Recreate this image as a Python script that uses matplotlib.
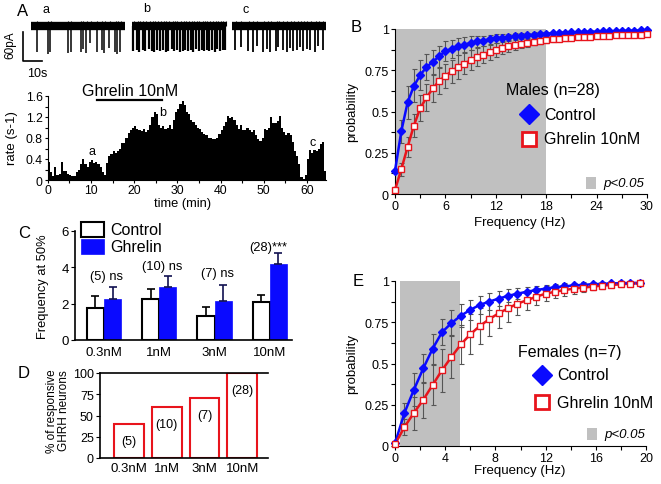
import numpy as np
import matplotlib
matplotlib.use('Agg')
import matplotlib.pyplot as plt
from matplotlib.patches import Rectangle
from matplotlib.lines import Line2D
from matplotlib.ticker import MultipleLocator

plt.rcParams['font.family'] = ['Liberation Sans', 'DejaVu Sans']

# ---------------- DATA ----------------
# Panel A traces: spike times (s) within each 49.5 s trace, and amplitudes (pA)
trace_a_t = [3.0, 8.8, 10.0, 19.3, 20.9, 26.1, 27.2, 28.9, 31.0, 34.6, 37.2, 38.6, 41.2, 44.2, 45.4, 46.8]
trace_a_amp = [56, 60, 54, 58, 56, 56, 48, 58, 36, 56, 50, 58, 46, 56, 60, 56]
trace_b_t = [0.7, 2.5, 3.8, 5.6, 7.0, 8.9, 10.4, 11.7, 13.0, 14.7, 16.5, 17.7, 19.1, 20.9, 22.1, 23.5, 25.3,
             26.7, 28.1, 29.6, 31.1, 32.3, 33.7, 35.1, 36.7, 37.9, 39.3, 40.7, 42.3, 43.7, 44.9, 46.3, 47.7, 48.9]
trace_b_amp = [52, 50, 54, 51, 53, 49, 52, 54, 50, 53, 51, 54, 52, 49, 53, 51, 54,
               52, 50, 53, 51, 54, 49, 52, 50, 53, 51, 52, 50, 54, 49, 52, 51, 50]
trace_c_t = [1.6, 4.6, 8.6, 10.9, 13.0, 16.5, 18.3, 20.0, 23.2, 24.4, 26.7, 28.8, 30.5, 32.3, 34.1, 35.8,
             37.5, 39.3, 41.1, 43.7, 45.4, 47.7]
trace_c_amp = [50, 44, 52, 54, 42, 56, 48, 54, 52, 44, 50, 54, 46, 52, 50, 44, 52, 48, 50, 54, 42, 50]

# Panel A histogram: firing rate (s-1) in 0.5-min bins from t = 0
rate_bin_min = 0.5
rate = [0.35, 0.15, 0.08, 0.25, 0.1, 0.12, 0.35, 0.17, 0.17, 0.12, 0.1, 0.08, 0.07, 0.15, 0.2, 0.3,
        0.4, 0.3, 0.25, 0.35, 0.38, 0.32, 0.35, 0.3, 0.25, 0.15, 0.1, 0.33, 0.45, 0.5, 0.55, 0.52,
        0.55, 0.6, 0.7, 0.7, 0.8, 0.9, 0.95, 1.0, 1.03, 0.98, 0.95, 0.93, 0.98, 0.92, 0.95, 1.05,
        1.2, 1.3, 1.25, 1.05, 1.0, 1.02, 0.98, 1.0, 1.05, 0.98, 1.15, 1.3, 1.35, 1.45, 1.5, 1.42,
        1.3, 1.25, 1.15, 1.1, 1.05, 1.0, 0.98, 0.92, 0.88, 0.85, 0.8, 0.8, 0.78, 0.78, 0.8, 0.88,
        0.95, 1.02, 1.1, 1.22, 1.18, 1.2, 1.15, 1.05, 0.98, 1.05, 0.95, 0.95, 1.0, 0.95, 0.92, 0.95,
        0.85, 0.78, 0.75, 0.8, 0.98, 0.95, 1.0, 1.2, 1.08, 1.08, 1.12, 1.22, 1.0, 0.92, 0.85, 0.9,
        0.85, 0.72, 0.55, 0.45, 0.3, 0.05, 0.02, 0.1, 0.4, 0.58, 0.52, 0.58, 0.55, 0.6, 0.68, 0.72,
        0.18]
ghrelin_on_min = [11.4, 26.5]

# Panel B: cumulative probability, males
freq_B = [0, 0.75, 1.5, 2.25, 3, 3.75, 4.5, 5.25, 6, 6.75, 7.5, 8.25, 9, 9.75, 10.5, 11.25, 12, 12.75,
          13.5, 14.25, 15, 15.75, 16.5, 17.25, 18, 18.75, 19.5, 20.25, 21, 21.75, 22.5, 23.25, 24,
          24.75, 25.5, 26.25, 27, 27.75, 28.5, 29.25, 30]
ctrl_B = [0.14, 0.38, 0.555, 0.655, 0.72, 0.77, 0.80, 0.835, 0.865, 0.88, 0.895, 0.905, 0.915, 0.925,
          0.93, 0.937, 0.943, 0.948, 0.952, 0.956, 0.96, 0.963, 0.966, 0.969, 0.971, 0.973, 0.975,
          0.977, 0.979, 0.98, 0.982, 0.983, 0.984, 0.985, 0.986, 0.987, 0.988, 0.989, 0.99, 0.991, 0.992]
ghr_B = [0.025, 0.15, 0.285, 0.415, 0.52, 0.585, 0.64, 0.685, 0.715, 0.745, 0.77, 0.79, 0.81, 0.83,
         0.845, 0.86, 0.873, 0.885, 0.895, 0.903, 0.91, 0.917, 0.923, 0.928, 0.933, 0.937, 0.941,
         0.944, 0.947, 0.95, 0.952, 0.954, 0.956, 0.958, 0.96, 0.962, 0.963, 0.964, 0.965, 0.966, 0.967]
ctrl_B_err = [0, 0.07, 0.1, 0.1, 0.09, 0.08, 0.07, 0.065, 0.06, 0.055, 0.05, 0.045, 0.04, 0.035, 0.03,
              0.028, 0.025, 0.022, 0.02, 0.018, 0.016, 0.015, 0.013, 0.012, 0.011, 0.01, 0.01, 0.009,
              0.009, 0.008, 0.008, 0.008, 0.007, 0.007, 0.007, 0.006, 0.006, 0.006, 0.005, 0.005, 0.005]
ghr_B_err = [0.02, 0.04, 0.06, 0.07, 0.08, 0.08, 0.08, 0.08, 0.075, 0.07, 0.07, 0.065, 0.06, 0.055,
             0.05, 0.045, 0.04, 0.036, 0.032, 0.03, 0.027, 0.025, 0.022, 0.02, 0.018, 0.017, 0.016,
             0.015, 0.014, 0.013, 0.012, 0.011, 0.01, 0.01, 0.01, 0.009, 0.009, 0.008, 0.008, 0.008, 0.008]
sig_B = [0, 18]

# Panel E: cumulative probability, females
freq_E = [0, 0.75, 1.5, 2.25, 3, 3.75, 4.5, 5.25, 6, 6.75, 7.5, 8.25, 9, 9.75, 10.5, 11.25, 12, 12.75,
          13.5, 14.25, 15, 15.75, 16.5, 17.25, 18, 18.75, 19.5]
ctrl_E = [0.016, 0.2, 0.34, 0.47, 0.59, 0.69, 0.745, 0.79, 0.825, 0.855, 0.875, 0.893, 0.91, 0.923,
          0.935, 0.945, 0.954, 0.962, 0.968, 0.973, 0.977, 0.98, 0.983, 0.985, 0.987, 0.988, 0.989]
ghr_E = [0.01, 0.115, 0.2, 0.28, 0.37, 0.46, 0.54, 0.616, 0.677, 0.727, 0.768, 0.804, 0.834, 0.863,
         0.883, 0.905, 0.923, 0.935, 0.945, 0.954, 0.96, 0.966, 0.972, 0.976, 0.98, 0.984, 0.986]
ctrl_E_err = [0, 0.06, 0.1, 0.09, 0.09, 0.08, 0.08, 0.07, 0.06, 0.055, 0.05, 0.045, 0.04, 0.035, 0.03,
              0.025, 0.022, 0.02, 0.018, 0.016, 0.014, 0.012, 0.011, 0.01, 0.01, 0.01, 0.01]
ghr_E_err = [0.01, 0.05, 0.1, 0.11, 0.12, 0.13, 0.13, 0.12, 0.12, 0.11, 0.1, 0.09, 0.08, 0.07, 0.06,
             0.05, 0.045, 0.04, 0.035, 0.03, 0.025, 0.02, 0.02, 0.015, 0.015, 0.012, 0.01]
sig_E = [0.4, 5.2]

# Panel C: frequency at 50%
doses = ['0.3nM', '1nM', '3nM', '10nM']
ctrl_C = [1.75, 2.25, 1.3, 2.1]
ctrl_C_err = [0.65, 0.55, 0.5, 0.35]
ghr_C = [2.25, 2.9, 2.15, 4.2]
ghr_C_err = [0.65, 0.6, 0.9, 0.6]
n_C = ['(5) ns', '(10) ns', '(7) ns', '(28)***']

# Panel D: % responsive neurons
resp_D = [40, 60, 71, 100]
n_D = ['(5)', '(10)', '(7)', '(28)']

# ---------------- FIGURE ----------------
W, H = 661, 485
fig = plt.figure(figsize=(W / 100, H / 100), dpi=100)

def add_ax(l, t, r, b):
    return fig.add_axes([l / W, 1 - b / H, (r - l) / W, (b - t) / H])

def ftext(x, y, s, **kw):
    kw.setdefault('ha', 'center')
    kw.setdefault('va', 'center')
    fig.text(x / W, 1 - y / H, s, **kw)

BLUE = '#0a0aff'
RED = '#e8141c'
GRAY = '#c0c0c0'
ERRC = '#555555'

def style_ax(ax, fs=9, length=3, pad=1.5):
    for s in ['top', 'right']:
        ax.spines[s].set_visible(False)
    ax.tick_params(which='both', direction='out', length=length, width=0.8, labelsize=fs, pad=pad)

# ---- Panel A traces ----
axT = add_ax(18, 10, 330, 66)
axT.set_xlim(-6.84, 157.4)
axT.set_ylim(-82.2, 35)
axT.axis('off')
for times, amps, off, slw in [(trace_a_t, trace_a_amp, 0.0, 1.1), (trace_b_t, trace_b_amp, 53.2, 1.6),
                              (trace_c_t, trace_c_amp, 105.8, 1.3)]:
    axT.hlines(0, off, off + 49.5, color='black', lw=6)
    t = np.array(times) + off
    axT.vlines(t, -np.array(amps), 0, color='black', lw=slw)
    axT.vlines(t + 0.4, 0, 10, color='black', lw=0.8)
axT.plot([-4.37, -4.37, 5.63], [-13.2, -73.2, -73.2], color='black', lw=1.2, clip_on=False)
ftext(10, 45, '60pA', rotation=90, fontsize=8.5)
ftext(37, 74, '10s', fontsize=9)
ftext(46, 10, 'a', fontsize=9)
ftext(147, 9, 'b', fontsize=9)
ftext(246, 10, 'c', fontsize=9)
ftext(23, 11, 'A', fontsize=12)

# ---- Panel A histogram ----
axH = add_ax(47.7, 97, 47.7 + 64.5 * 4.32, 181)
tbins = np.arange(len(rate)) * rate_bin_min
axH.bar(tbins, rate, width=rate_bin_min, align='edge', color='black', edgecolor='none')
axH.set_xlim(0, 64.5)
axH.set_ylim(0, 1.6)
style_ax(axH, fs=8.8, length=2.5, pad=1)
axH.set_xticks([0, 10, 20, 30, 40, 50, 60])
axH.xaxis.set_minor_locator(MultipleLocator(5))
axH.set_yticks([0, 0.4, 0.8, 1.2, 1.6])
axH.set_yticklabels(['0', '0.4', '0.8', '1.2', '1.6'])
axH.yaxis.set_minor_locator(MultipleLocator(0.2))
axH.tick_params(axis='x', pad=0.5)
axH.plot(ghrelin_on_min, [1.52, 1.52], color='black', lw=1.6, clip_on=False)
axH.text(19.0, 1.71, 'Ghrelin 10nM', ha='center', va='center', fontsize=11.5, clip_on=False)
axH.text(10.25, 0.55, 'a', ha='center', va='center', fontsize=9)
axH.text(26.6, 1.30, 'b', ha='center', va='center', fontsize=9)
axH.text(61.3, 0.72, 'c', ha='center', va='center', fontsize=9)
ftext(12, 138, 'rate (s-1)', rotation=90, fontsize=9.5)
ftext(183, 204, 'time (min)', fontsize=9.3)

# ---- cumulative panels ----
def cum_panel(ax, fx, c, ce, g, ge, sig, xmax, xmaj, xmin):
    ax.axvspan(sig[0], sig[1], ymin=0, ymax=1, color=GRAY, lw=0, zorder=0)
    ax.errorbar(fx, c, yerr=ce, fmt='none', ecolor=ERRC, elinewidth=0.8, capsize=1.8,
                capthick=0.8, zorder=2, clip_on=False)
    ax.errorbar(fx, g, yerr=ge, fmt='none', ecolor=ERRC, elinewidth=0.8, capsize=1.8,
                capthick=0.8, zorder=2, clip_on=False)
    ax.plot(fx, c, color=BLUE, lw=1.8, zorder=3, clip_on=False)
    ax.plot(fx, g, color=RED, lw=1.8, zorder=3, clip_on=False)
    ax.plot(fx, c, ls='none', marker='D', ms=4, mfc=BLUE, mec=BLUE, zorder=4, clip_on=False)
    ax.plot(fx, g, ls='none', marker='s', ms=5, mfc='white', mec=RED, mew=1.0, zorder=5,
            clip_on=False)
    ax.set_xlim(0, xmax)
    ax.set_ylim(0, 1)
    style_ax(ax, fs=9)
    ax.set_xticks(np.arange(0, xmax + 0.1, xmaj))
    ax.xaxis.set_minor_locator(MultipleLocator(xmin))
    ax.set_yticks([0, 0.25, 0.5, 0.75, 1])
    ax.set_yticklabels(['0', '0.25', '0.5', '0.75', '1'])
    ax.yaxis.set_minor_locator(MultipleLocator(0.125))

def cum_legend(title, tx, ty, mx, my1, my2, gx, gy):
    ftext(tx, ty, title, fontsize=11.5)
    fig.add_artist(Line2D([mx / W], [1 - my1 / H], marker='D', ms=10, mfc=BLUE, mec=BLUE, ls='none'))
    ftext(mx + 15, my1, 'Control', fontsize=11.5, ha='left')
    fig.add_artist(Line2D([mx / W], [1 - my2 / H], marker='s', ms=10, mfc='white', mec=RED,
                          mew=2, ls='none'))
    ftext(mx + 15, my2, 'Ghrelin 10nM', fontsize=11.5, ha='left')
    fig.add_artist(Rectangle(((gx - 5) / W, 1 - (gy + 6) / H), 10 / W, 12 / H, color=GRAY, lw=0))
    ftext(gx + 12, gy, 'p<0.05', fontsize=9.5, ha='left', style='italic')

axB = add_ax(395, 30, 647, 195)
cum_panel(axB, freq_B, ctrl_B, ctrl_B_err, ghr_B, ghr_B_err, sig_B, 30, 6, 3)
cum_legend('Males (n=28)', 553, 90, 529, 115, 140, 591, 184)
ftext(352, 112, 'probability', rotation=90, fontsize=9.5)
ftext(520, 223, 'Frequency (Hz)', fontsize=9.5)
ftext(356, 28, 'B', fontsize=12)

axE = add_ax(395, 282, 646, 447)
cum_panel(axE, freq_E, ctrl_E, ctrl_E_err, ghr_E, ghr_E_err, sig_E, 20, 4, 2)
cum_legend('Females (n=7)', 570, 353, 542, 376, 403, 592, 435)
ftext(352, 364, 'probability', rotation=90, fontsize=9.5)
ftext(520, 471, 'Frequency (Hz)', fontsize=9.5)
ftext(358, 282, 'E', fontsize=12)

# ---- Panel C ----
axC = add_ax(75, 232, 292, 341)
xc = np.arange(len(doses))
bw = 0.31
axC.bar(xc - bw / 2, ctrl_C, width=bw, color='white', edgecolor='black', lw=1.5,
        yerr=[np.zeros(len(doses)), ctrl_C_err], error_kw=dict(ecolor='black', elinewidth=1.2,
                                                               capsize=3, capthick=1.2))
axC.bar(xc + bw / 2, ghr_C, width=bw, color=BLUE, edgecolor=BLUE, lw=0.5,
        yerr=[np.zeros(len(doses)), ghr_C_err], error_kw=dict(ecolor='#101050', elinewidth=1.2,
                                                             capsize=3, capthick=1.2))
axC.set_xlim(-0.524, 3.40)
axC.set_ylim(0, 6)
style_ax(axC, fs=9.5)
axC.spines['left'].set_linewidth(1.2)
axC.spines['bottom'].set_linewidth(1.2)
axC.set_xticks(xc)
axC.set_xticklabels(doses)
axC.tick_params(axis='x', length=0, pad=4)
axC.set_yticks([0, 2, 4, 6])
lab_off = [0.62, 0.57, 0.64, 0.32]
for i in range(len(doses)):
    top = ghr_C[i] + ghr_C_err[i]
    axC.text(xc[i] + 0.05 if i < 3 else xc[i] - 0.03, top + lab_off[i], n_C[i],
             ha='center', va='center', fontsize=9.3, clip_on=False)
ftext(43, 287, 'Frequency at 50%', rotation=90, fontsize=9.3)
ftext(24, 233, 'C', fontsize=12)
fig.add_artist(Rectangle((81 / W, 1 - 238 / H), 23 / W, 15 / H, facecolor='white',
                         edgecolor='black', lw=1.5))
fig.add_artist(Rectangle((81 / W, 1 - 255 / H), 23 / W, 15 / H, facecolor=BLUE,
                         edgecolor=BLUE, lw=0.5))
ftext(110, 231, 'Control', fontsize=11.5, ha='left')
ftext(110, 248, 'Ghrelin', fontsize=11.5, ha='left')

# ---- Panel D ----
axD = add_ax(100, 374, 268, 459)
xd = np.arange(len(doses))
axD.bar(xd, resp_D, width=0.79, color='white', edgecolor=RED, lw=1.5)
axD.set_xlim(-0.77, 3.68)
axD.set_ylim(0, 100)
style_ax(axD, fs=9)
axD.spines['top'].set_visible(True)
axD.spines['left'].set_linewidth(1.2)
axD.spines['bottom'].set_linewidth(1.2)
axD.spines['top'].set_linewidth(1.2)
axD.set_xticks(xd)
axD.set_xticklabels(doses, fontsize=9.5)
axD.tick_params(axis='x', length=0, pad=3)
axD.set_yticks([0, 25, 50, 75, 100])
for i in range(len(doses)):
    axD.text(xd[i], resp_D[i] - 20, n_D[i], ha='center', va='center', fontsize=9)
ftext(58, 411, '% of responsive\nGHRH neurons', rotation=90, fontsize=8.5, linespacing=1.1)
ftext(24, 373, 'D', fontsize=12)

fig.savefig('out.png', dpi=100)
